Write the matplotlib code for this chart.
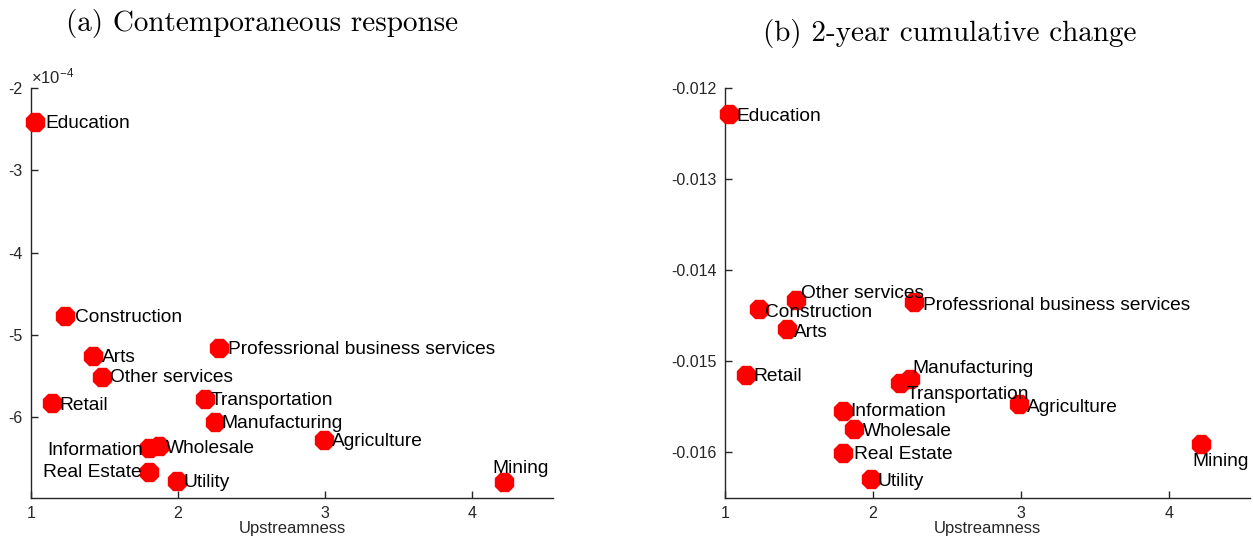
import matplotlib
matplotlib.use("Agg")
import matplotlib.pyplot as plt
from matplotlib.ticker import FuncFormatter, FormatStrFormatter

plt.rcParams['font.family'] = ['Liberation Sans', 'DejaVu Sans']
plt.rcParams['mathtext.fontset'] = 'custom'
plt.rcParams['mathtext.rm'] = 'Liberation Sans'
plt.rcParams['mathtext.it'] = 'Liberation Sans:italic'
plt.rcParams['axes.unicode_minus'] = False

# ---- data ----
industries = ["Education", "Construction", "Arts", "Other services", "Retail",
              "Professrional business services", "Transportation", "Manufacturing",
              "Agriculture", "Information", "Wholesale", "Real Estate", "Utility", "Mining"]
upstreamness = [1.03, 1.23, 1.42, 1.48, 1.14, 2.28, 2.18, 2.25, 2.99, 1.80, 1.87, 1.80, 1.99, 4.22]
# contemporaneous response, in units of 1e-4
contemp_e4 = [-2.41, -4.77, -5.26, -5.51, -5.83, -5.16, -5.78, -6.06, -6.27, -6.37, -6.35, -6.66, -6.77, -6.79]
# 2-year cumulative change
cumul2y = [-0.01229, -0.01443, -0.01465, -0.01433, -0.01515, -0.01435, -0.01524, -0.01519,
           -0.01547, -0.01554, -0.01574, -0.01601, -0.01629, -0.01591]
contemp = [v * 1e-4 for v in contemp_e4]

# label placement (dx px, dy px upward, ha)
offs_a = {"Education": (10, -2, 'left'), "Construction": (10, -1, 'left'), "Arts": (9, -1, 'left'),
          "Other services": (8, -1, 'left'), "Retail": (8, -2, 'left'),
          "Professrional business services": (9, -1, 'left'), "Transportation": (6, -1, 'left'),
          "Manufacturing": (7, -1, 'left'), "Agriculture": (8, -2, 'left'),
          "Information": (-6, -3, 'right'), "Wholesale": (7, -2, 'left'),
          "Real Estate": (-7, -1, 'right'), "Utility": (7, -2, 'left'), "Mining": (-12, 14, 'left')}
offs_b = {"Education": (7, -2, 'left'), "Construction": (6, -3, 'left'), "Arts": (7, -3, 'left'),
          "Other services": (5, 7, 'left'), "Retail": (8, -2, 'left'),
          "Professrional business services": (9, -3, 'left'), "Transportation": (7, -11, 'left'),
          "Manufacturing": (3, 10, 'left'), "Agriculture": (8, -3, 'left'),
          "Information": (7, -1, 'left'), "Wholesale": (9, -3, 'left'),
          "Real Estate": (11, -1, 'left'), "Utility": (6, -3, 'left'), "Mining": (-9, -17, 'left')}

W, H = 1253, 537
fig = plt.figure(figsize=(W / 100, H / 100), dpi=100)
axc = '#262626'

def make_ax(x0, x1, y0, y1):
    return fig.add_axes([x0 / W, 1 - y1 / H, (x1 - x0) / W, (y1 - y0) / H])

ax1 = make_ax(31, 553, 88, 498)
ax2 = make_ax(725, 1250, 88, 498)

def style(ax):
    for s in ['top', 'right']:
        ax.spines[s].set_visible(False)
    for s in ['left', 'bottom']:
        ax.spines[s].set_color(axc)
        ax.spines[s].set_linewidth(1.0)
    ax.tick_params(direction='in', length=5, width=1.0, colors=axc, labelsize=11.5,
                   labelcolor=axc, pad=6)
    ax.set_xlim(1, 4.55)
    ax.set_xticks([1, 2, 3, 4])
    ax.set_xlabel("Upstreamness", fontsize=12, color=axc, labelpad=0)

def draw(ax, ys, offs):
    ax.plot(upstreamness, ys, linestyle='none', marker='8', markersize=13.5,
            color='#ff0000', markeredgecolor='#ff0000', zorder=3, clip_on=False)
    for name, x, y in zip(industries, upstreamness, ys):
        dx, dy, ha = offs[name]
        ax.annotate(name, (x, y), xytext=(dx * 0.72, dy * 0.72), textcoords='offset points',
                    ha=ha, va='center', fontsize=13.8, color='black', zorder=5,
                    annotation_clip=False)

style(ax1)
style(ax2)
draw(ax1, contemp, offs_a)
draw(ax2, cumul2y, offs_b)

ax1.set_ylim(-6.98e-4, -2e-4)
ax1.set_yticks([v * 1e-4 for v in [-6, -5, -4, -3, -2]])
ax1.yaxis.set_major_formatter(FuncFormatter(lambda v, _: f"{v / 1e-4:g}"))
ax1.text(0.0, 1.005, r'$\times10^{-4}$', transform=ax1.transAxes, fontsize=12,
         color=axc, ha='left', va='bottom')

ax2.set_ylim(-0.0165, -0.012)
ax2.set_yticks([-0.016, -0.015, -0.014, -0.013, -0.012])
ax2.yaxis.set_major_formatter(FormatStrFormatter('%.3f'))

fig.text(262 / W, 1 - 23 / H, "(a) Contemporaneous response", family='cmr10',
         fontsize=21, ha='center', va='center')
fig.text(950 / W, 1 - 34 / H, "(b) 2-year cumulative change", family='cmr10',
         fontsize=21, ha='center', va='center')

fig.savefig("out.png", dpi=100)
